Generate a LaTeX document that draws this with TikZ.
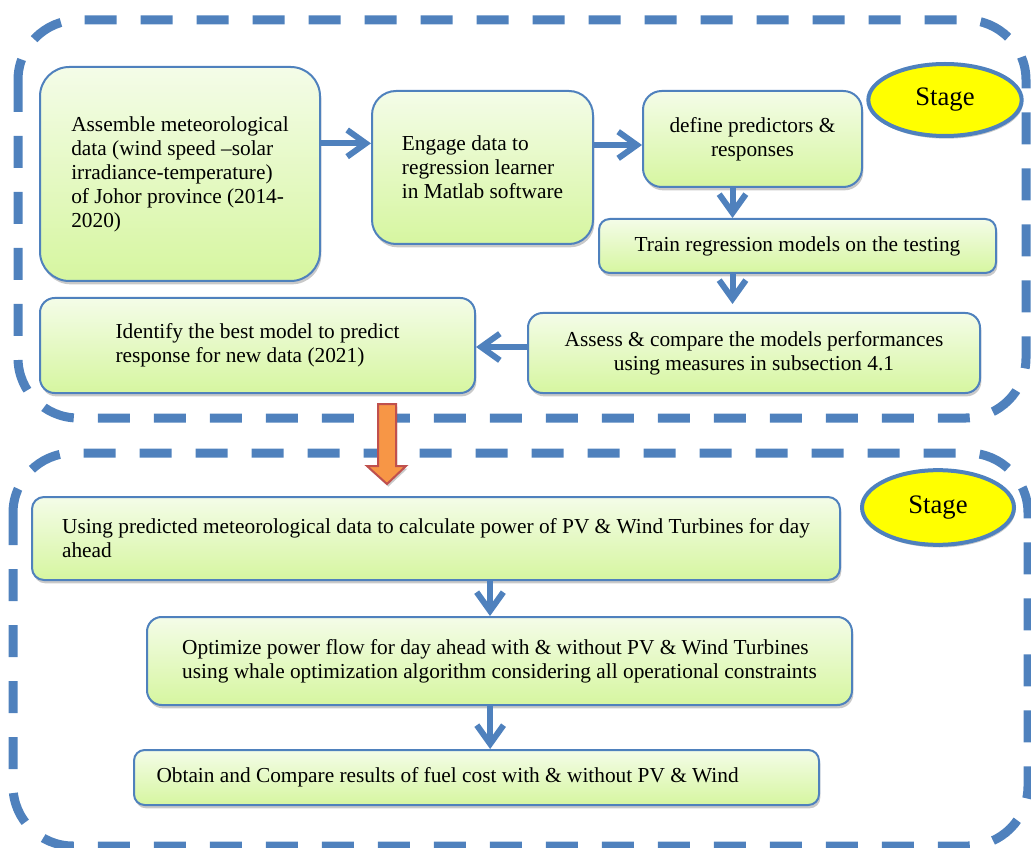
\documentclass[tikz,border=0pt]{standalone}
\usepackage{fontspec}
\setmainfont{Liberation Serif}
\usetikzlibrary{shapes.geometric,shadows,arrows.meta}

\definecolor{frameblue}{RGB}{79,129,189}
\definecolor{boxtop}{RGB}{244,252,232}
\definecolor{boxbot}{RGB}{214,246,160}
\definecolor{stageyellow}{RGB}{255,255,0}
\definecolor{arroworange}{RGB}{247,150,70}
\definecolor{arrowred}{RGB}{192,80,77}

\tikzset{
  stepbox/.style={draw=frameblue, line width=1.5pt, rounded corners=12pt, top color=boxtop, bottom color=boxbot,
    align=left, inner sep=0pt, font=\fontsize{16}{18}\selectfont,
    drop shadow={shadow xshift=1pt, shadow yshift=-2.5pt, opacity=0.3, fill=black!70}},
  stagelabel/.style={ellipse, draw=frameblue, line width=3pt, fill=stageyellow, inner sep=0pt,
    font=\fontsize{20}{24}\selectfont, minimum width=115pt, minimum height=54pt,
    drop shadow={shadow xshift=1pt, shadow yshift=-2pt, opacity=0.3, fill=black!70}},
  stageframe/.style={draw=frameblue, line width=6.75pt, dash pattern=on 24pt off 18pt, rounded corners=45pt},
  flow/.style={draw=frameblue, line width=4.5pt, -{Straight Barb[length=14pt, width=20pt]}},
}

\begin{document}
\begin{tikzpicture}[x=0.75pt, y=-0.75pt]
  \useasboundingbox (0,0) rectangle (1031,848);
  \clip (0,0) rectangle (1031,848);

  % Frames
  \draw[stageframe] (18,20) rectangle (1026,418);
  \draw[stageframe] (13,453) rectangle (1028,846);

  % Nodes, first stage
  \node[stepbox, rounded corners=22pt, minimum width=210pt, minimum height=160.5pt] at (180, 174) (a)
    {Assemble meteorological\\data (wind speed –solar\\irradiance-temperature)\\of Johor province (2014-\\2020)};
  \node[stepbox, rounded corners=18pt, minimum width=165.75pt, minimum height=114.75pt] at (482.5, 167.5) (b)
    {Engage data to\\regression learner\\in Matlab software};
  \node[stepbox, align=center, rounded corners=14pt, minimum width=164.25pt, minimum height=72pt] at (752.5, 139) (c)
    {define predictors \&\\responses};
  \node[stepbox, rounded corners=8pt, minimum width=297.75pt, minimum height=40.5pt] at (797.5, 246) (d)
    {Train regression models on the testing};
  \node[stepbox, align=center, rounded corners=11pt, minimum width=339pt, minimum height=60pt] at (754, 353) (e)
    {Assess \& compare the models performances\\using measures in subsection 4.1};
  \node[stepbox, rounded corners=11pt, minimum width=326.25pt, minimum height=71.25pt] at (257.5, 345.5) (f)
    {Identify the best model to predict\\response for new data (2021)};
  \node[stagelabel] at (945, 100) (s1) {Stage};

  % Nodes, second stage
  \node[stepbox, rounded corners=9pt, minimum width=606pt, minimum height=62.25pt] at (436, 538.5) (g)
    {Using predicted meteorological data to calculate power of PV \& Wind Turbines for day\\ahead};
  \node[stepbox, rounded corners=11pt, minimum width=528.75pt, minimum height=66pt] at (499.5, 661) (h)
    {Optimize power flow for day ahead with \& without PV \& Wind Turbines\\using whale optimization algorithm considering all operational constraints};
  \node[stepbox, align=flush left, rounded corners=8pt, text width=480pt, minimum width=513.75pt, minimum height=41.25pt] at (476.5, 777.5) (i)
    {Obtain and Compare results of fuel cost with \& without PV \& Wind};
  \node[stagelabel, minimum width=114pt, minimum height=56pt] at (938, 507.5) (s2) {Stage};

  % Block arrow between the stages
  \draw[fill=arroworange, draw=arrowred, line width=1.5pt,
    drop shadow={shadow xshift=1pt, shadow yshift=-2pt, opacity=0.3, fill=black!70}]
    (378,404) -- (396,404) -- (396,466) -- (406,466) -- (387,484) -- (367,466) -- (378,466) -- cycle;

  % Connectors
  \draw[flow] ([yshift=23pt]a.east) -- ([yshift=23pt]a.east -| b.west);
  \draw[flow] ([yshift=-4.5pt]c.west -| b.east) -- ([yshift=-4.5pt]c.west);
  \draw[flow] ([xshift=-15pt]c.south) -- ([xshift=-15pt]c.south |- d.north);
  \draw[flow] ([xshift=-15pt]c.south |- d.south) -- ([xshift=-15pt, yshift=6pt]c.south |- e.north);
  \draw[flow] ([yshift=4.5pt]e.west) -- ([yshift=4.5pt]e.west -| f.east);
  \draw[flow] ([xshift=40.5pt]g.south) -- ([xshift=40.5pt]g.south |- h.north);
  \draw[flow] ([xshift=-7pt]h.south) -- ([xshift=-7pt]h.south |- i.north);
\end{tikzpicture}
\end{document}
